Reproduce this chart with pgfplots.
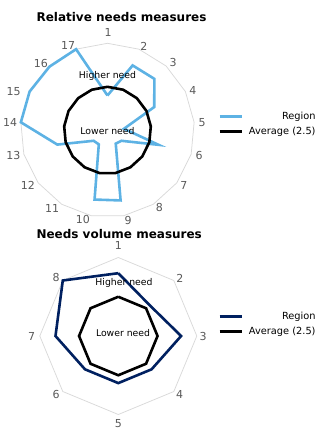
\documentclass[border=0pt]{standalone}
\usepackage{fontspec}
\setmainfont{DejaVu Sans}
\usepackage{pgfplots}
\pgfplotsset{compat=1.18}
\usepgfplotslibrary{polar}
\definecolor{regblue}{RGB}{93,178,228}
\definecolor{regnavy}{RGB}{0,32,96}
\definecolor{lblgray}{RGB}{89,89,89}
\definecolor{ringgray}{RGB}{217,217,217}
\pgfplotsset{
  radar/.style={
    scale only axis, anchor=center,
    xmin=0, xmax=360, ymin=0, ymax=5,
    xtick=\empty, ytick=\empty,
    axis line style={draw=none},
    grid=none, clip=false,
    legend cell align=right,
    legend image code/.code={\draw[##1, line width=2.8bp] (0bp,0bp) -- (22bp,0bp);},
    legend style={draw=none, fill=none, inner sep=0pt, row sep=2.5bp,
      font=\fontsize{9.8bp}{11bp}\selectfont,
      /tikz/every odd column/.append style={column sep=4bp}},
  },
}
\tikzset{
  lbl/.style={font=\fontsize{11bp}{13bp}\selectfont, text=lblgray, inner sep=0.5bp, anchor=center},
  note/.style={font=\fontsize{9.3bp}{11bp}\selectfont, inner sep=0pt},
}
\begin{document}
\begin{tikzpicture}
\node[anchor=base, font=\fontsize{12bp}{14bp}\selectfont\bfseries] at (121.5bp,-21.5bp) {Relative needs measures};
\node[anchor=base, font=\fontsize{12bp}{14bp}\selectfont\bfseries] at (119.2bp,-238bp) {Needs volume measures};
\begin{polaraxis}[radar, at={(107.5bp,-130.3bp)}, width=174bp, height=174bp,
  legend style={at={(1.135,0.536)}, anchor=west}]
\addplot[ringgray, line width=0.75bp, forget plot] coordinates {
(90,5) (68.82,5) (47.65,5) (26.47,5) (5.29,5) (344.12,5) (322.94,5) (301.76,5) (280.59,5)
(259.41,5) (238.24,5) (217.06,5) (195.88,5) (174.71,5) (153.53,5) (132.35,5) (111.18,5) (90,5)};
\addplot[regblue, line width=2.6bp, line join=miter] coordinates {
(90,2.0) (68.82,4.0) (47.65,4.0) (26.47,3.0) (5.29,0.95) (344.12,3.05) (322.94,1.0) (301.76,0.9)
(280.59,4.1) (259.41,4.05) (238.24,0.95) (217.06,1.0) (195.88,3.0) (174.71,5.0) (153.53,5.0)
(132.35,4.95) (111.18,5.0) (90,2.0)};
\addlegendentry{Region}
\addplot[black, line width=2.6bp, line join=round] coordinates {
(90,2.5) (68.82,2.5) (47.65,2.5) (26.47,2.5) (5.29,2.5) (344.12,2.5) (322.94,2.5) (301.76,2.5) (280.59,2.5)
(259.41,2.5) (238.24,2.5) (217.06,2.5) (195.88,2.5) (174.71,2.5) (153.53,2.5) (132.35,2.5) (111.18,2.5) (90,2.5)};
\addlegendentry{Average (2.5)}
\node[note] at (axis cs:90,3.12) {Higher need};
\node[note] at (axis cs:270,0.05) {Lower need};
\node[lbl] at (axis cs:89.7,5.65) {1};
\node[lbl] at (axis cs:66.6,5.28) {2};
\node[lbl] at (axis cs:45.8,5.40) {3};
\node[lbl] at (axis cs:24.8,5.41) {4};
\node[lbl] at (axis cs:4.6,5.45) {5};
\node[lbl] at (axis cs:344.9,5.45) {6};
\node[lbl] at (axis cs:324.4,5.40) {7};
\node[lbl] at (axis cs:304.1,5.33) {8};
\node[lbl] at (axis cs:282.9,5.29) {9};
\node[lbl] at (axis cs:254.7,5.34) {10};
\node[lbl] at (axis cs:234.5,5.49) {11};
\node[lbl] at (axis cs:214.5,5.55) {12};
\node[lbl] at (axis cs:194.7,5.60) {13};
\node[lbl] at (axis cs:175.5,5.62) {14};
\node[lbl] at (axis cs:157.4,5.85) {15};
\node[lbl] at (axis cs:134.7,5.44) {16};
\node[lbl] at (axis cs:114.8,5.40) {17};
\end{polaraxis}
\begin{polaraxis}[radar, at={(118.3bp,-336bp)}, width=157bp, height=157bp,
  legend style={at={(1.135,0.577)}, anchor=west}]
\addplot[ringgray, line width=0.75bp, forget plot] coordinates {
(90,5) (45,5) (0,5) (315,5) (270,5) (225,5) (180,5) (135,5) (90,5)};
\addplot[regnavy, line width=2.6bp, line join=miter] coordinates {
(90,4.0) (45,2.8) (0,4.0) (315,3.0) (270,3.0) (225,3.0) (180,4.0) (135,5.0) (90,4.0)};
\addlegendentry{Region}
\addplot[black, line width=2.6bp, line join=miter] coordinates {
(90,2.5) (45,2.5) (0,2.5) (315,2.5) (270,2.5) (225,2.5) (180,2.5) (135,2.5) (90,2.5)};
\addlegendentry{Average (2.5)}
\node[note] at (axis cs:83.9,3.41) {Higher need};
\node[note] at (axis cs:35,0.37) {Lower need};
\node[lbl] at (axis cs:90,5.75) {1};
\node[lbl] at (axis cs:43.2,5.39) {2};
\node[lbl] at (axis cs:0,5.41) {3};
\node[lbl] at (axis cs:316.3,5.41) {4};
\node[lbl] at (axis cs:270,5.56) {5};
\node[lbl] at (axis cs:223.4,5.44) {6};
\node[lbl] at (axis cs:180,5.52) {7};
\node[lbl] at (axis cs:137,5.42) {8};
\end{polaraxis}
\pgfresetboundingbox
\useasboundingbox (0,0) rectangle (323bp,-429bp);
\end{tikzpicture}
\end{document}
